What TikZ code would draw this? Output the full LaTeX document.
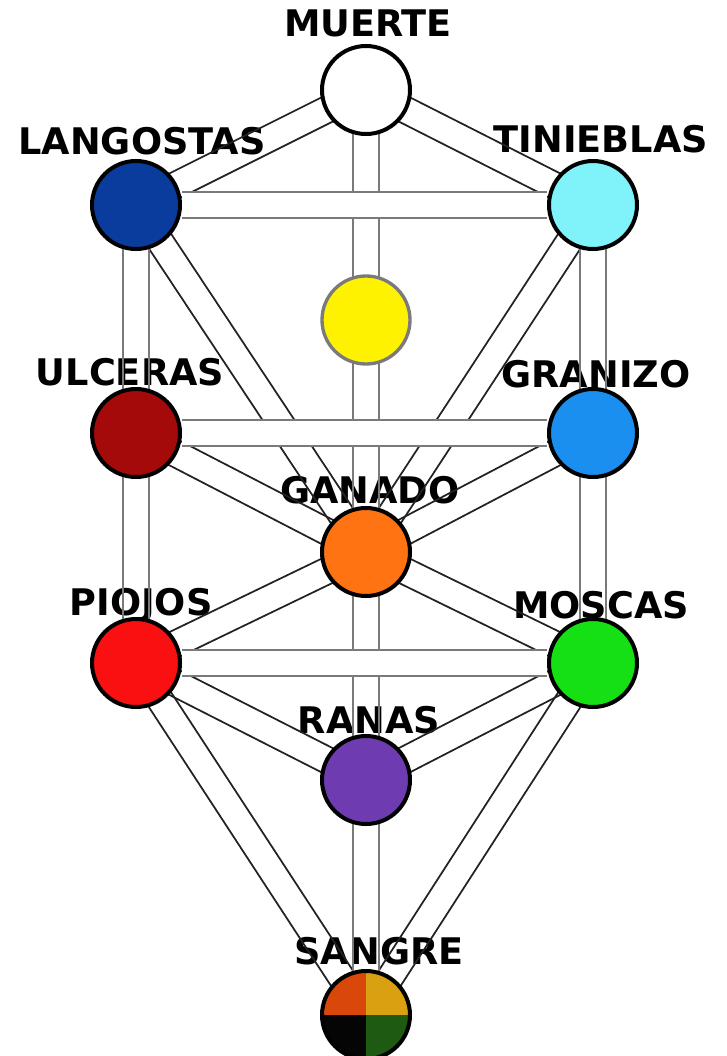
\documentclass[tikz,border=0pt]{standalone}
\usepackage{fontspec}
\setmainfont{DejaVu Sans}
\usetikzlibrary{calc}
\pgfdeclarelayer{labels}
\pgfdeclarelayer{lines}
\pgfsetlayers{labels,lines,main}
\definecolor{cblue}{HTML}{0A3C9E}
\definecolor{ccyan}{HTML}{80F2FA}
\definecolor{cyel}{HTML}{FFF200}
\definecolor{cdred}{HTML}{A50A0A}
\definecolor{cazure}{HTML}{1A8FF0}
\definecolor{corange}{HTML}{FF7312}
\definecolor{cred}{HTML}{FA1010}
\definecolor{cgreen}{HTML}{14E014}
\definecolor{cpurple}{HTML}{6E3CB0}
\definecolor{qtl}{HTML}{D9470A}
\definecolor{qtr}{HTML}{D9A011}
\definecolor{qbl}{HTML}{050505}
\definecolor{qbr}{HTML}{1E5A12}
\definecolor{lgray}{HTML}{7A7A7A}
\definecolor{ldark}{HTML}{222222}
\begin{document}
\begin{tikzpicture}[x=0.75pt,y=-0.75pt,
  sph/.style={circle,draw=black,line width=3pt,minimum size=66pt,inner sep=0pt},
  lab/.style={anchor=base,inner sep=0pt,text=black,font=\fontsize{27.5}{30}\selectfont\bfseries},
  diag/.style={draw=ldark,line width=1.3pt},
  vert/.style={draw=lgray,line width=1.7pt},
  hband/.style={draw=lgray,line width=1.7pt,double=white,double distance=18pt}]
\useasboundingbox (0,0) rectangle (726,1056);
% spheres
\node[sph,fill=white] (M) at (366,90) {};
\node[sph,fill=cblue] (L) at (136,205) {};
\node[sph,fill=ccyan] (T) at (593,205) {};
\node[sph,fill=cyel,draw=lgray,line width=2.5pt] (Y) at (366,320) {};
\node[sph,fill=cdred] (U) at (136,433) {};
\node[sph,fill=cazure] (R) at (593,433) {};
\node[sph,fill=corange] (G) at (366,552) {};
\node[sph,fill=cred] (P) at (136,663) {};
\node[sph,fill=cgreen] (Mo) at (593,663) {};
\node[sph,fill=cpurple] (Ra) at (366,780) {};
\node[circle,minimum size=66pt,inner sep=0pt] (S) at (366,1015) {};
\begin{scope}
  \clip (S.center) circle[radius=33pt];
  \fill[qtl] (S.center) rectangle ++(-60,-60);
  \fill[qtr] (S.center) rectangle ++(60,-60);
  \fill[qbl] (S.center) rectangle ++(-60,60);
  \fill[qbr] (S.center) rectangle ++(60,60);
\end{scope}
\draw[line width=3pt] (S.center) circle[radius=33pt];
% labels
\begin{pgfonlayer}{labels}
\fill[white] (0,0) rectangle (726,1056);
\node[lab] (tM) at (368,37) {MUERTE};
\node[lab] (tL) at (142,154) {LANGOSTAS};
\node[lab] (tT) at (601,152) {TINIEBLAS};
\node[lab] (tU) at (130,385) {ULCERAS};
\node[lab] (tR) at (596,387) {GRANIZO};
\node[lab] (tG) at (370,503) {GANADO};
\node[lab] (tP) at (141,615) {PIOJOS};
\node[lab] (tMo) at (601,618) {MOSCAS};
\node[lab] (tRa) at (369,733) {RANAS};
\node[lab] (tS) at (379,964) {SANGRE};
\end{pgfonlayer}
% paths
\begin{pgfonlayer}{lines}
\foreach \a/\b in {M/L,M/T,L/G,T/G,U/G,R/G,P/G,Mo/G,P/Ra,Mo/Ra,P/S,Mo/S}{
  \draw[diag] ($(\a)!10pt!90:(\b)$) -- ($(\b)!10pt!-90:(\a)$);
  \draw[diag] ($(\a)!10pt!-90:(\b)$) -- ($(\b)!10pt!90:(\a)$);
}
\foreach \a/\b in {M/Y,Y/G,G/Ra,Ra/S,L/U,U/P,T/R,R/Mo}{
  \draw[vert] ($(\a)!10pt!90:(\b)$) -- ($(\b)!10pt!-90:(\a)$);
  \draw[vert] ($(\a)!10pt!-90:(\b)$) -- ($(\b)!10pt!90:(\a)$);
}
\foreach \a/\b in {L/T,U/R,P/Mo}{
  \draw[hband] (\a) -- (\b);
}
\end{pgfonlayer}
\end{tikzpicture}
\end{document}
